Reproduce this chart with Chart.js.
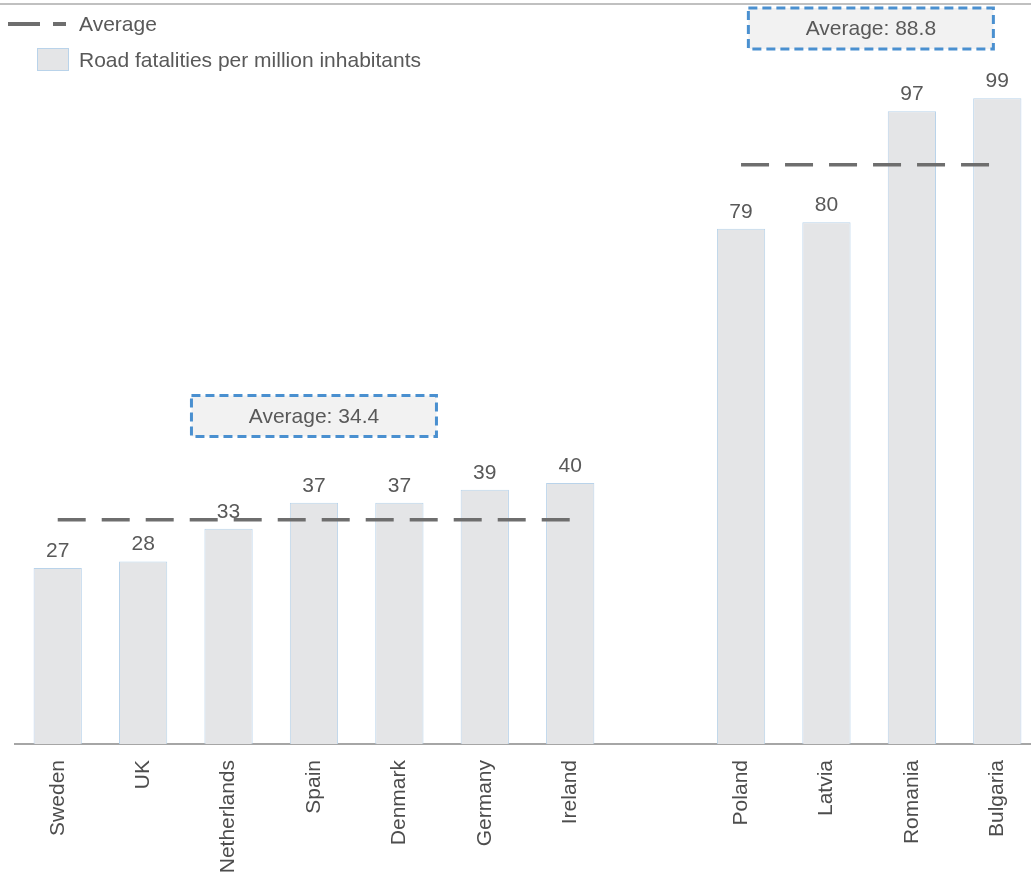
<!DOCTYPE html>
<html>
<head>
<meta charset="utf-8">
<script src="https://cdn.jsdelivr.net/npm/chart.js@4"></script>
<style>
  html, body { margin: 0; padding: 0; background: #fff; overflow: hidden; }
  .wrap { position: relative; width: 1031px; height: 874px; overflow: hidden; }
  .wrap canvas { position: absolute; left: 0; top: 0; }
  .top-rule { position: absolute; left: 0; top: 3px; width: 1031px; height: 2px; background: #c0c0c0; }
  .legend { position: absolute; left: 0; top: 0; font-family: "Liberation Sans", Arial, sans-serif; font-size: 21px; line-height: 24px; color: #595959; }
  .legend-row { position: absolute; white-space: nowrap; }
  .dash { position: absolute; height: 4px; background: #6e6e6e; }
  .swatch { position: absolute; width: 30px; height: 21px; background: #e4e5e7; border: 1px solid #b9d3ea; }
</style>
</head>
<body>
<div class="wrap">
  <canvas id="chart" width="1046" height="874"></canvas>
  <div class="top-rule"></div>
  <div class="legend">
    <div class="dash" style="left:8px; top:22px; width:32px;"></div>
    <div class="dash" style="left:53px; top:22px; width:13px;"></div>
    <div class="legend-row" style="left:79px; top:12px;">Average</div>
    <div class="swatch" style="left:37px; top:48px;"></div>
    <div class="legend-row" style="left:79px; top:48px;">Road fatalities per million inhabitants</div>
  </div>
</div>
<script>
// countries, with an empty slot separating the two groups
const countries = ['Sweden', 'UK', 'Netherlands', 'Spain', 'Denmark', 'Germany', 'Ireland', '',
  'Poland', 'Latvia', 'Romania', 'Bulgaria'];
const fatalities = [27, 28, 33, 37, 37, 39, 40, null, 79, 80, 97, 99];
const lowAverage = [34.4, 34.4, 34.4, 34.4, 34.4, 34.4, 34.4, null, null, null, null, null];
const highAverage = [null, null, null, null, null, null, null, null, 88.8, 88.8, 88.8, 88.8];

// callout boxes: text, anchored category index and value
const callouts = [
  { text: 'Average: 34.4', at: 3, value: 50.3 },
  { text: 'Average: 88.8', at: 9.52, value: 109.7 },
];

const FONT = '"Liberation Sans", Arial, sans-serif';

const valueLabels = {
  id: 'valueLabels',
  afterDatasetsDraw(chart) {
    const ctx = chart.ctx;
    const meta = chart.getDatasetMeta(2);
    ctx.save();
    ctx.font = `21px ${FONT}`;
    ctx.fillStyle = '#595959';
    ctx.textAlign = 'center';
    ctx.textBaseline = 'alphabetic';
    meta.data.forEach((bar, i) => {
      if (fatalities[i] == null) return;
      ctx.fillText(String(fatalities[i]), bar.x, bar.y - 11);
    });
    ctx.restore();
  },
};

const calloutBoxes = {
  id: 'calloutBoxes',
  afterDraw(chart) {
    const ctx = chart.ctx;
    const { x, y } = chart.scales;
    ctx.save();
    callouts.forEach((c) => {
      const cx = x.getPixelForValue(c.at);
      const cy = y.getPixelForValue(c.value);
      const w = 245, h = 41;
      ctx.fillStyle = '#f2f2f2';
      ctx.fillRect(cx - w / 2, cy - h / 2, w, h);
      ctx.setLineDash([9, 5]);
      ctx.lineWidth = 3;
      ctx.strokeStyle = '#4a90d0';
      ctx.strokeRect(cx - w / 2, cy - h / 2, w, h);
      ctx.setLineDash([]);
      ctx.font = `21px ${FONT}`;
      ctx.fillStyle = '#595959';
      ctx.textAlign = 'center';
      ctx.textBaseline = 'middle';
      ctx.fillText(c.text, cx, cy + 1);
    });
    ctx.restore();
  },
};

const averageLine = (data) => ({
  type: 'line',
  data,
  borderColor: '#6e6e6e',
  borderWidth: 3.5,
  borderDash: [28, 16],
  pointRadius: 0,
  spanGaps: false,
  fill: false,
  order: 0,
});

new Chart(document.getElementById('chart'), {
  type: 'bar',
  data: {
    labels: countries,
    datasets: [
      averageLine(lowAverage),
      averageLine(highAverage),
      {
        type: 'bar',
        data: fatalities,
        backgroundColor: '#e4e5e7',
        borderColor: '#b9d3ea',
        borderWidth: 1,
        categoryPercentage: 1,
        barPercentage: 0.565,
        order: 1,
      },
    ],
  },
  options: {
    responsive: false,
    animation: false,
    layout: { padding: { left: 15, right: 6, top: 7, bottom: 0 } },
    plugins: {
      legend: { display: false },
      tooltip: { enabled: false },
    },
    scales: {
      x: {
        grid: { display: false, drawTicks: false },
        border: { display: true, color: '#a6a6a6', width: 2 },
        ticks: {
          color: '#4d4d4d',
          font: { family: FONT, size: 21 },
          minRotation: 90,
          maxRotation: 90,
          padding: 16,
          autoSkip: false,
        },
        afterFit: (scale) => { scale.height = 130; },
      },
      y: {
        display: false,
        min: 0,
        max: 113,
      },
    },
  },
  plugins: [valueLabels, calloutBoxes],
});
</script>
</body>
</html>
